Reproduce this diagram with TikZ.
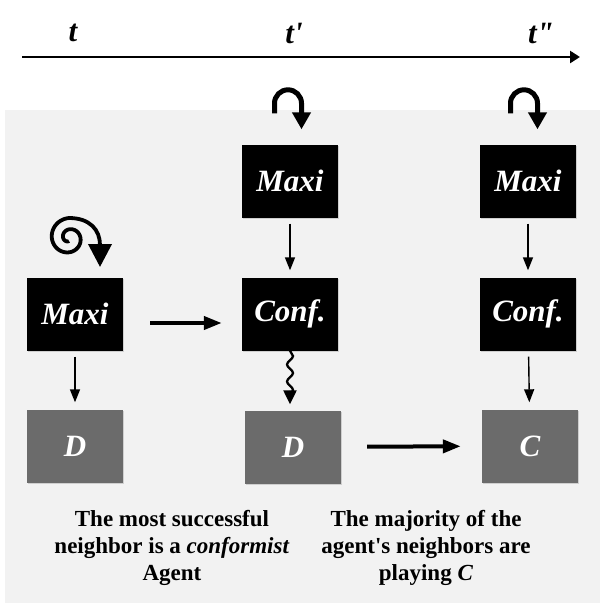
\documentclass[tikz,border=0pt]{standalone}
\usepackage{fontspec}
\setmainfont{Liberation Serif}
\usetikzlibrary{arrows.meta,decorations.pathmorphing,shadows}

\begin{document}
\begin{tikzpicture}[x=1pt,y=-1pt,
    darkbox/.style={fill=black,text=white,minimum width=96pt,minimum height=73pt,
      inner sep=0pt,font=\fontsize{31}{31}\selectfont\bfseries\itshape,
      drop shadow={opacity=0.3,shadow xshift=1.2pt,shadow yshift=-1.2pt}},
    greybox/.style={darkbox,fill=black!58},
    thinarrow/.style={line width=1.4pt,-{Triangle[length=13pt,width=10pt]},
      shorten <=6pt,shorten >=7pt},
    thickarrow/.style={line width=4pt,-{Triangle[length=18pt,width=13pt]}},
    turnarrow/.style={line width=5pt,-{Triangle[length=17pt,width=18pt]}},
    timelabel/.style={font=\fontsize{31}{31}\selectfont\bfseries\itshape},
    note/.style={align=center,font=\fontsize{23}{27}\selectfont\bfseries}]
    % bounding box and grey panel
    \useasboundingbox (0,0) rectangle (600,603);
    \fill[black!5] (5,110) rectangle (600,603);

    % time axis
    \coordinate (tstart) at (22,57);
    \coordinate (tend) at (580,57);
    \draw[line width=2.5pt,-{Triangle[length=10pt,width=12pt]}] (tstart) -- (tend);
    \node[timelabel] (tA) at (73,33) {t};
    \node[timelabel] (tB) at (294,33) {t\textquotesingle};
    \node[timelabel] (tC) at (541,33) {t\textquotedbl};

    % column t
    \node[darkbox] (maxiA) at (75,314) {Maxi};
    \node[greybox] (dA) at (75,446) {D};
    \draw[thinarrow] (maxiA) -- (dA);

    % column t'
    \node[darkbox] (maxiB) at (290,181) {Maxi};
    \node[darkbox] (confB) at (290,314) {Conf.};
    \node[greybox] (dB) at (293,447) {D};
    \draw[thinarrow] (maxiB) -- (confB);
    \draw[line width=2.3pt,-{Triangle[length=14pt,width=13pt]},shorten <=6pt,shorten >=6pt,
      decorate,decoration={snake,amplitude=3pt,segment length=17pt,post length=13pt}]
      (confB.south) -- (confB.south |- dB.north);

    % column t''
    \node[darkbox] (maxiC) at (528,181) {Maxi};
    \node[darkbox] (confC) at (528,314) {Conf.};
    \node[greybox] (cC) at (530,446) {C};
    \draw[thinarrow] (maxiC) -- (confC);
    \draw[thinarrow] (confC) -- (cC);

    % moves between columns
    \draw[thickarrow,shorten <=27pt,shorten >=20pt]
      ([yshift=-9pt]maxiA.east) -- ([yshift=-9pt]confB.west);
    \draw[thickarrow,shorten <=26pt,shorten >=21pt] (dB) -- (cC);

    % spiral above the first Maxi
    \draw[line width=3.8pt,-{Triangle[length=23pt,width=23pt]}]
      plot[domain=630:90,samples=90,smooth]
        ({69+(3+(630-\x)/540*17)*cos(\x)},{238-(3+(630-\x)/540*17)*sin(\x)})
      .. controls (90,218) and (100,230) .. (100,267);

    % turn arrows above the later Maxi boxes
    \draw[turnarrow] ([xshift=-15.5pt,yshift=31pt]maxiB.north) -- ++(0,-10)
      arc[start angle=180,end angle=360,radius=13.5] -- ++(0,26);
    \draw[turnarrow] ([xshift=-17.5pt,yshift=31pt]maxiC.north) -- ++(0,-10)
      arc[start angle=180,end angle=360,radius=13.5] -- ++(0,26);

    % conditions
    \node[note] (noteA) at (172,548) {The most successful\\neighbor is a \textit{conformist}\\Agent};
    \node[note] (noteB) at (426,548) {The majority of the\\agent\textquotesingle s neighbors are\\playing \textit{C}};
\end{tikzpicture}
\end{document}
